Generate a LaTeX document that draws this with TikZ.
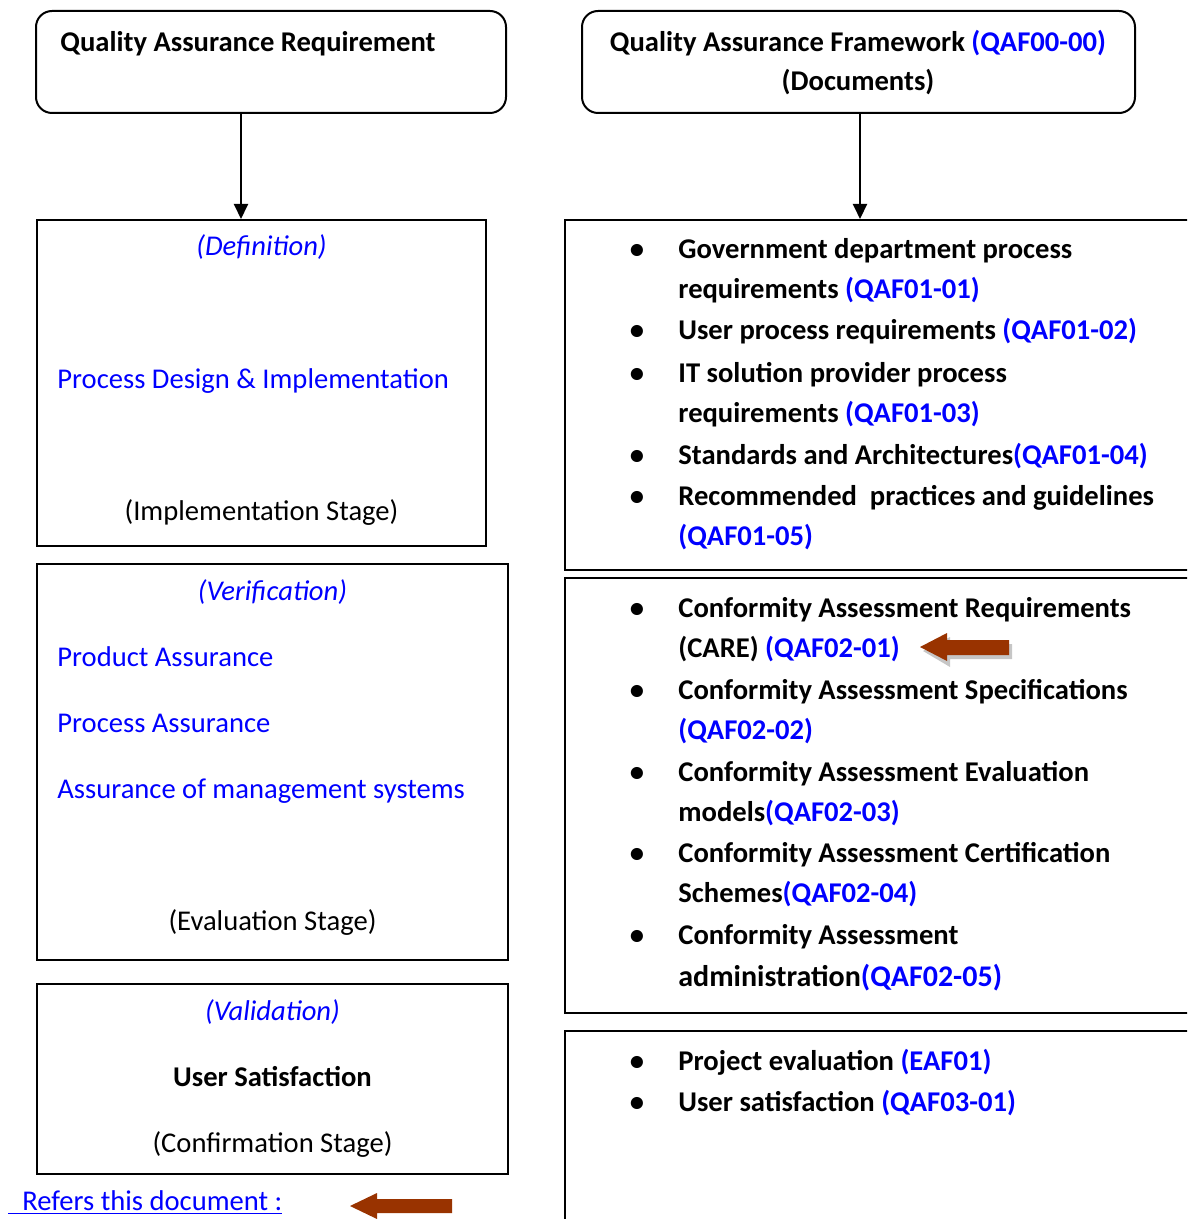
\documentclass[tikz,border=0pt]{standalone}
\usepackage{fontspec}
\setmainfont{Carlito}
\usetikzlibrary{arrows.meta,fit}
\definecolor{qblue}{RGB}{0,0,255}
\definecolor{qbrown}{RGB}{153,51,0}
\newcommand{\qfont}{\fontsize{14.3}{17}\selectfont}
\newcommand{\qa}[1]{\textcolor{qblue}{#1}}
\tikzset{
  box/.style={draw,line width=1pt,inner sep=0pt},
  rbox/.style={box,rounded corners=8pt},
  arr/.style={line width=1pt,-{Triangle[length=7.5pt,width=7pt]}},
  txt/.style={anchor=base west,inner sep=0pt,font=\qfont},
  ctxt/.style={anchor=base,inner sep=0pt,font=\qfont},
  bf/.style={font=\qfont\bfseries},
  it/.style={font=\qfont\itshape,text=qblue},
  item/.style={anchor=base west,inner sep=0pt,font=\qfont\bfseries},
  bul/.style={anchor=base,inner sep=0pt,font=\qfont\bfseries}
}
\begin{document}
\begin{tikzpicture}[x=0.5pt,y=-0.5pt]
\clip (0,0) rectangle (1187,1219);
% boxes, left column
\node[rbox,fit={(36,11) (506,113)}] (req) {};
\node[rbox,fit={(582,11) (1135,113)}] (fw) {};
\node[box,fit={(37,220) (486,546)}] (def) {};
\node[box,fit={(37,564) (508,960)}] (ver) {};
\node[box,fit={(37,984) (508,1174)}] (val) {};
% right column, runs off the page
\node[box,fit={(565,220) (1215,570)}] (docA) {};
\node[box,fit={(565,578) (1215,1013)}] (docB) {};
\node[box,fit={(565,1031) (1215,1240)}] (docC) {};
\coordinate (down) at (241,0);
\coordinate (downR) at (860,0);
\draw[arr] (req.south -| down) -- (def.north -| down);
\draw[arr] (fw.south -| downR) -- (docA.north -| downR);
% headings
\node[txt,bf] (reqT) at (60,52) {Quality Assurance Requirement};
\node[ctxt,bf] (fwT) at (858,52) {Quality Assurance Framework \qa{(QAF00-00)}};
\node[ctxt,bf] (fwD) at (858,91) {(Documents)};
% left texts
\node[ctxt,it] (defT) at (def.north |- 0,256) {(Definition)};
\node[txt,text=qblue] (pdi) at (57,388) {Process Design \& Implementation};
\node[ctxt] (impl) at (def.north |- 0,520) {(Implementation Stage)};
\node[ctxt,it] (verT) at (ver.north |- 0,600) {(Verification)};
\foreach \y/\t in {666/Product Assurance,732/Process Assurance,798/Assurance of management systems}
  \node[txt,text=qblue] (va\y) at (57,\y) {\t};
\node[ctxt] (eval) at (ver.north |- 0,930) {(Evaluation Stage)};
\node[ctxt,it] (valT) at (val.north |- 0,1020) {(Validation)};
\node[ctxt,bf] (usat) at (val.north |- 0,1086) {User Satisfaction};
\node[ctxt] (conf) at (val.north |- 0,1152) {(Confirmation Stage)};
\node[txt,text=qblue] (refs) at (8,1210) {\underline{\hspace{7pt}Refers this document :}};
% right texts
\foreach \y/\t in {259/{Government department process},299/{requirements \qa{(QAF01-01)}},
  340/{User process requirements \qa{(QAF01-02)}},382/{IT solution provider process},
  422/{requirements \qa{(QAF01-03)}},464/{Standards and Architectures\qa{(QAF01-04)}},
  505/{Recommended\ \ practices and guidelines},545/{\qa{(QAF01-05)}},
  617/{Conformity Assessment Requirements},657/{(CARE) \qa{(QAF02-01)}},
  699/{Conformity Assessment Specifications},739/{\qa{(QAF02-02)}},
  781/{Conformity Assessment Evaluation},821/{models\qa{(QAF02-03)}},
  862/{Conformity Assessment Certification},902/{Schemes\qa{(QAF02-04)}},
  944/{Conformity Assessment},
  1070/{Project evaluation \qa{(EAF01)}},1111/{User satisfaction \qa{(QAF03-01)}}}
  \node[item] (ln\y) at (678,\y) {\t};
\node[item,font=\fontsize{15}{18}\selectfont\bfseries] (ln986) at (678,986) {administration\qa{(QAF02-05)}};
\foreach \y in {259,340,382,464,505,617,699,781,862,944,1070,1111}
  \node[bul] (b\y) at (637,\y) {\textbullet};
% brown arrows
\fill[gray!45] (923,651) -- (950,637) -- (950,644) -- (1012,644) -- (1012,659) -- (950,659) -- (950,667) -- cycle;
\fill[qbrown] (920,647) -- (947,633) -- (947,640) -- (1009,640) -- (1009,655) -- (947,655) -- (947,661) -- cycle;
\fill[qbrown] (350,1206) -- (377,1193) -- (377,1199) -- (452,1199) -- (452,1213) -- (377,1213) -- (377,1219) -- cycle;
\end{tikzpicture}
\end{document}
